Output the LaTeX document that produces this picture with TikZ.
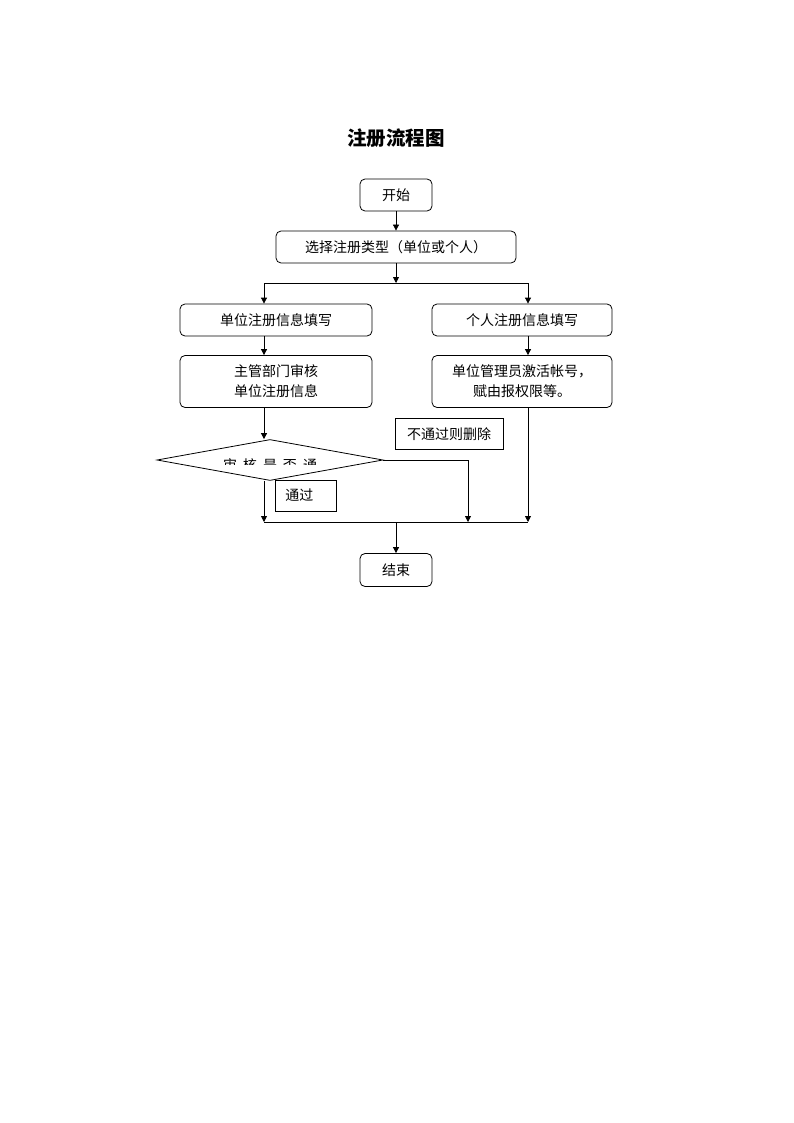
\documentclass[tikz,border=0pt]{standalone}
\usepackage{fontspec}
\newfontfamily\cjk{Noto Sans CJK SC}
\usetikzlibrary{arrows.meta,shapes.geometric,calc}

\begin{document}
\begin{tikzpicture}[x=1pt,y=-1pt,line width=0.8pt,
  box/.style={draw,rounded corners=5pt,inner sep=0pt,align=center,
    font=\cjk\fontsize{14pt}{20pt}\selectfont},
  note/.style={draw,inner sep=0pt,font=\cjk\fontsize{14pt}{20pt}\selectfont},
  arr/.style={-{Triangle[length=6pt,width=6pt]}}]
  \useasboundingbox (0,0) rectangle (794,1123);
  \node[font=\cjk\bfseries\fontsize{19.5pt}{22pt}\selectfont] (title) at (396,138) {注册流程图};
  % main boxes
  \node[box,minimum width=72pt,minimum height=32pt] (start) at (396,195) {开始};
  \node[box,minimum width=240pt,minimum height=32pt] (select) at (396,247) {选择注册类型（单位或个人）};
  \node[box,minimum width=192pt,minimum height=32pt] (unit) at (276,320) {单位注册信息填写};
  \node[box,minimum width=180pt,minimum height=32pt] (person) at (522,320) {个人注册信息填写};
  \node[box,minimum width=192pt,minimum height=52pt] (review) at (276,381.5) {主管部门审核\\单位注册信息};
  \node[box,minimum width=180pt,minimum height=52pt] (activate) at (522,381.5) {单位管理员激活帐号，\\赋由报权限等。};
  \node[draw,diamond,inner sep=0pt,minimum width=226pt,minimum height=41pt] (decide) at (270,460) {};
  \begin{scope}
    \clip (150,441) rectangle (390,464);
    \node[inner sep=0pt,font=\cjk\fontsize{14pt}{20pt}\selectfont] (ask) at (270,465)
      {审\hspace{6pt}核\hspace{6pt}是\hspace{6pt}否\hspace{6pt}通};
  \end{scope}
  \node[note,anchor=west,inner xsep=10pt,text width=41pt,minimum height=31pt] (pass) at (275,495.5) {通过};
  \node[note,minimum width=108pt,minimum height=31pt] (fail) at (449,434) {不通过则删除};
  \node[box,minimum width=72pt,minimum height=33pt] (end) at (396,570) {结束};
  % junctions
  \coordinate (split) at (396,283);
  \coordinate (splitL) at (264,283);
  \coordinate (splitR) at (528,283);
  \coordinate (merge) at (396,522);
  \coordinate (mergeL) at (264,522);
  \coordinate (mergeM) at (468,522);
  \coordinate (mergeR) at (528,522);
  % connectors
  \draw[arr] (start) -- (select);
  \draw[arr] (select) -- (split);
  \draw (splitL) -- (splitR);
  \draw[arr] (splitL) -- (splitL |- unit.north);
  \draw[arr] (splitR) -- (splitR |- person.north);
  \draw[arr] (splitL |- unit.south) -- (splitL |- review.north);
  \draw[arr] (splitR |- person.south) -- (splitR |- activate.north);
  \draw[arr] (splitL |- review.south) -- (splitL |- decide.north);
  \draw[arr] (splitL |- decide.south) -- (mergeL);
  \draw[arr] (decide.east) -| (mergeM);
  \draw[arr] (splitR |- activate.south) -- (mergeR);
  \draw (mergeL) -- (mergeR);
  \draw[arr] (merge) -- (end);
\end{tikzpicture}
\end{document}
